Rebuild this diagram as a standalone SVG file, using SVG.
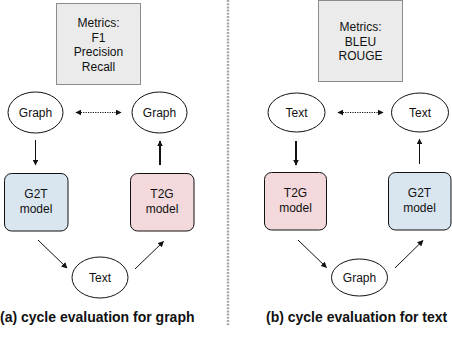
<svg xmlns="http://www.w3.org/2000/svg" width="452" height="360" viewBox="0 0 452 360">
<style>
text{font-family:"Liberation Sans",Arial,sans-serif;font-size:12px;fill:#111;text-anchor:middle}
.metrics{fill:#ebebeb;stroke:#222;stroke-width:1;stroke-dasharray:1 1}
.ell{fill:#fff;stroke:#111;stroke-width:1}
.g2t{fill:#dae6ef;stroke:#111;stroke-width:1}
.t2g{fill:#f3d9dc;stroke:#111;stroke-width:1}
.thin{stroke:#111;stroke-width:1;fill:none;marker-end:url(#ah)}
.thick{stroke:#111;stroke-width:2;fill:none;marker-end:url(#ah2)}
.dot{stroke:#111;stroke-width:1;stroke-dasharray:1.2 1.2;fill:none;marker-start:url(#ahs);marker-end:url(#ah)}
.cap{font-weight:bold;font-size:14px;text-anchor:start}
</style>
<defs>
<marker id="ah" viewBox="0 0 10 10" refX="9" refY="5" markerWidth="6" markerHeight="6" markerUnits="userSpaceOnUse" orient="auto"><path d="M0,0 L10,5 L0,10 z" fill="#111"/></marker>
<marker id="ahs" viewBox="0 0 10 10" refX="1" refY="5" markerWidth="6" markerHeight="6" markerUnits="userSpaceOnUse" orient="auto"><path d="M10,0 L0,5 L10,10 z" fill="#111"/></marker>
<marker id="ah2" viewBox="0 0 10 10" refX="9" refY="5" markerWidth="6" markerHeight="6" markerUnits="userSpaceOnUse" orient="auto"><path d="M0,0 L10,5 L0,10 z" fill="#111"/></marker>
</defs>
<line x1="228" y1="0" x2="228" y2="326" stroke="#aaa" stroke-width="2.5" stroke-dasharray="2 1.2"/>
<g id="metrics-a"><rect class="metrics" x="56.5" y="3.5" width="84" height="81"/>
<text x="98.5" y="27">Metrics:</text><text x="98.5" y="42">F1</text><text x="98.5" y="56">Precision</text><text x="98.5" y="71">Recall</text></g>
<g id="graph-a1"><ellipse class="ell" cx="35.5" cy="112.5" rx="27.5" ry="20.5"/><text x="35.5" y="116.5">Graph</text></g>
<g id="graph-a2"><ellipse class="ell" cx="159.5" cy="112.5" rx="27.5" ry="20.5"/><text x="159.5" y="116.5">Graph</text></g>
<g id="g2t-a"><rect class="g2t" x="4.5" y="173.5" width="63.5" height="57.5" rx="7"/><text x="36" y="198">G2T</text><text x="36" y="213">model</text></g>
<g id="t2g-a"><rect class="t2g" x="130.5" y="173.5" width="63.5" height="57.5" rx="7"/><text x="162" y="198">T2G</text><text x="162" y="213">model</text></g>
<g id="text-a"><ellipse class="ell" cx="100" cy="277.5" rx="28" ry="20.5"/><text x="100" y="281.5">Text</text></g>
<g id="metrics-b"><rect class="metrics" x="318.5" y="0.5" width="84" height="81"/>
<text x="360.5" y="31">Metrics:</text><text x="360.5" y="46">BLEU</text><text x="360.5" y="60">ROUGE</text></g>
<g id="text-b1"><ellipse class="ell" cx="296.5" cy="112.5" rx="28.5" ry="19.5"/><text x="296.5" y="116.5">Text</text></g>
<g id="text-b2"><ellipse class="ell" cx="420" cy="112.5" rx="28.5" ry="19.5"/><text x="420" y="116.5">Text</text></g>
<g id="t2g-b"><rect class="t2g" x="264.5" y="172.5" width="62" height="57.5" rx="7"/><text x="295.5" y="197">T2G</text><text x="295.5" y="212">model</text></g>
<g id="g2t-b"><rect class="g2t" x="388.5" y="172.5" width="62.5" height="57.5" rx="7"/><text x="419.5" y="197">G2T</text><text x="419.5" y="212">model</text></g>
<g id="graph-b"><ellipse class="ell" cx="359.5" cy="277.5" rx="28" ry="18.5"/><text x="359.5" y="281.5">Graph</text></g>
<g id="connectors">
<line class="dot" x1="76" y1="112.5" x2="121" y2="112.5"/>
<line class="thin" x1="35.5" y1="140" x2="35.5" y2="165"/>
<line class="thick" x1="160" y1="165" x2="160" y2="141"/>
<line class="thin" x1="38" y1="240" x2="67" y2="268"/>
<line class="thin" x1="135" y1="269" x2="163.5" y2="241.5"/>
<line class="dot" x1="338" y1="112.5" x2="383" y2="112.5"/>
<line class="thick" x1="296" y1="141" x2="296" y2="165"/>
<line class="thin" x1="419.5" y1="164" x2="419.5" y2="139"/>
<line class="thin" x1="298" y1="240" x2="326.5" y2="267.5"/>
<line class="thin" x1="395" y1="268" x2="423" y2="240.5"/>
</g>
<text class="cap" x="0" y="322">(a) cycle evaluation for graph</text>
<text class="cap" x="266" y="322">(b) cycle evaluation for text</text>
</svg>
